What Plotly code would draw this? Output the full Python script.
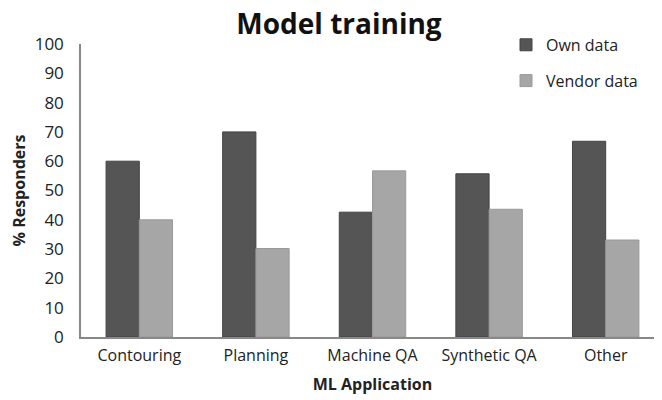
import plotly.graph_objects as go

categories = ["Contouring", "Planning", "Machine QA", "Synthetic QA", "Other"]
own_data = [60, 70, 42.6, 55.7, 66.8]
vendor_data = [40, 30.2, 56.7, 43.6, 33.1]
y_ticks = list(range(0, 101, 10))

fig = go.Figure()
fig.add_trace(go.Bar(x=categories, y=own_data, name="Own data", legendgroup="a",
                     marker=dict(color="#555555", line=dict(color="#444444", width=1))))
fig.add_trace(go.Bar(x=categories, y=vendor_data, name="Vendor data", legendgroup="b",
                     marker=dict(color="#a6a6a6", line=dict(color="#999999", width=1))))

font_family = "Open Sans, Lato, sans-serif"
fig.update_layout(
    width=662, height=400,
    margin=dict(l=73, r=6, t=36, b=71, autoexpand=False),
    paper_bgcolor="white", plot_bgcolor="white",
    barmode="group", bargap=0.43, bargroupgap=0,
    font=dict(family=font_family, size=15, color="#222222"),
    title=dict(text="<b>Model training</b>", x=0.5, xanchor="center", y=0.985, yanchor="top",
               font=dict(size=28, color="#111111", family=font_family)),
    legend=dict(x=0.729, y=1.055, xanchor="left", yanchor="top", tracegroupgap=12,
                font=dict(size=16), bgcolor="rgba(0,0,0,0)"),
    xaxis=dict(showline=True, linecolor="#888888", linewidth=1.5, ticks="", automargin=False,
               title=dict(text="<b>ML Application</b>", font=dict(size=16), standoff=14),
               tickfont=dict(size=16), ticklabelstandoff=3),
    yaxis=dict(range=[0, 100], tickvals=y_ticks, showgrid=False, zeroline=False, automargin=False,
               showline=True, linecolor="#888888", linewidth=1.5, ticks="",
               title=dict(text="<b>% Responders</b>", font=dict(size=16), standoff=16),
               tickfont=dict(size=17), ticklabelstandoff=12),
)
fig.write_html("out.html")
